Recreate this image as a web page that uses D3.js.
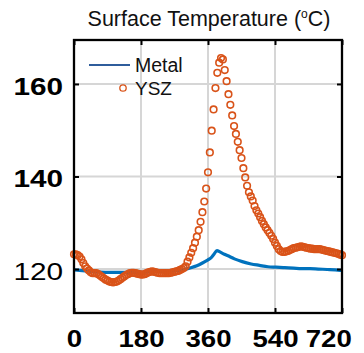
<!DOCTYPE html>
<html>
<head>
<meta charset="utf-8">
<script src="https://cdn.jsdelivr.net/npm/d3@7"></script>
<style>
  body { margin: 0; background: #fff; }
  svg { display: block; font-family: 'Liberation Sans', Arial, sans-serif; }
</style>
</head>
<body>
<div id="chart"></div>
<script>
var width = 364
var height = 353
var margin = { top: 40, left: 74, right: 24, bottom: 40 }

var xTicks = [0, 180, 360, 540, 720]
var yTicks = [120, 140, 160]
var gridX = [180, 360, 540]

// metal surface temperature, [time (s), temp (C)]
var metal = [
  [0, 119.8], [30, 119.6], [60, 119.4], [90, 119.3], [120, 119.3], [150, 119.3],
  [180, 119.3], [210, 119.4], [240, 119.5], [270, 119.6], [290, 119.8], [310, 120.2],
  [330, 120.7], [345, 121.3], [360, 122.0], [368, 122.4], [376, 123.2], [384, 124.0],
  [392, 123.7], [404, 123.2], [418, 122.7], [431, 122.2], [452, 121.6], [476, 121.1],
  [498, 120.8], [521, 120.5], [543, 120.4], [566, 120.3], [590, 120.2], [611, 120.1],
  [634, 120.1], [656, 120.0], [680, 119.9], [702, 119.8], [720, 119.7]
]

// YSZ surface temperature, [time (s), temp (C)]
var ysz = [
  [0, 123.2], [5, 123.2], [10, 123.0], [15, 122.7], [20, 122.1], [25, 121.3],
  [30, 120.6], [35, 120.1], [40, 119.7], [45, 119.3], [50, 119.1], [55, 119.1],
  [60, 119.1], [65, 118.9], [70, 118.6], [75, 118.3], [80, 118.0], [85, 117.7],
  [90, 117.5], [95, 117.3], [100, 117.2], [105, 117.1], [110, 117.2], [115, 117.3],
  [120, 117.5], [125, 117.8], [130, 118.1], [135, 118.4], [140, 118.7], [145, 118.9],
  [150, 119.1], [155, 119.2], [160, 119.2], [165, 119.1], [170, 119.0], [175, 118.9],
  [180, 118.8], [185, 118.8], [190, 118.9], [195, 119.1], [200, 119.3], [205, 119.4],
  [210, 119.5], [215, 119.4], [220, 119.3], [225, 119.2], [230, 119.1], [235, 119.1],
  [240, 119.1], [245, 119.1], [250, 119.1], [255, 119.1], [260, 119.2], [265, 119.3],
  [270, 119.4], [275, 119.5], [280, 119.6], [285, 119.8], [290, 120.0], [295, 120.2],
  [300, 120.6], [305, 121.6], [310, 122.5], [315, 123.5], [320, 124.5], [325, 125.7],
  [330, 127.0], [335, 128.4], [340, 130.2], [345, 132.3], [350, 134.6], [355, 137.4],
  [360, 140.9], [365, 145.2], [370, 149.9], [375, 154.5], [380, 159.1], [385, 162.4],
  [390, 164.6], [395, 165.6], [400, 165.3], [405, 163.0], [410, 160.6], [415, 157.8],
  [420, 155.5], [425, 153.2], [430, 150.9], [435, 149.2], [440, 147.5], [445, 145.7],
  [450, 144.0], [455, 141.8], [460, 139.8], [465, 138.0], [470, 136.6], [475, 135.7],
  [480, 134.8], [485, 133.6], [490, 132.7], [495, 132.0], [500, 131.2], [505, 130.4],
  [510, 129.7], [515, 129.0], [520, 128.4], [525, 127.8], [530, 127.2], [535, 126.5],
  [540, 125.7], [545, 125.0], [550, 124.3], [555, 123.9], [560, 123.7], [565, 123.7],
  [570, 123.8], [575, 123.9], [580, 124.1], [585, 124.3], [590, 124.5], [595, 124.6],
  [600, 124.7], [605, 124.8], [610, 124.9], [615, 124.8], [620, 124.7], [625, 124.6],
  [630, 124.5], [635, 124.4], [640, 124.4], [645, 124.3], [650, 124.3], [655, 124.3],
  [660, 124.3], [665, 124.2], [670, 124.1], [675, 124.0], [680, 123.9], [685, 123.8],
  [690, 123.7], [695, 123.6], [700, 123.5], [705, 123.4], [710, 123.3], [715, 123.1],
  [720, 123.0]
]

var blue = '#0072BD'
var orange = '#D95319'
var xStretch = 1.2
var yStretch = 1.24

var svg = d3
  .select('#chart')
  .append('svg')
  .attr('width', width)
  .attr('height', height)

var x = d3.scaleLinear().domain([0, 720]).range([margin.left, width - margin.right + 2])
var y = d3.scaleLinear().domain([110.5, 169.5]).range([height - margin.bottom, margin.top])

var plotW = x.range()[1] - x.range()[0]
var plotH = y.range()[0] - y.range()[1]

// grid
svg.append('g')
  .selectAll('line.gx')
  .data(gridX)
  .enter()
  .append('line')
  .attr('x1', d => x(d)).attr('x2', d => x(d))
  .attr('y1', y.range()[1]).attr('y2', y.range()[0])
  .attr('stroke', '#d6d6d6')
  .attr('stroke-width', 2)

svg.append('g')
  .selectAll('line.gy')
  .data(yTicks)
  .enter()
  .append('line')
  .attr('x1', x.range()[0]).attr('x2', x.range()[1])
  .attr('y1', d => y(d)).attr('y2', d => y(d))
  .attr('stroke', '#d6d6d6')
  .attr('stroke-width', 2)

// metal line
var line = d3.line().x(d => x(d[0])).y(d => y(d[1])).curve(d3.curveMonotoneX)

svg.append('path')
  .datum(metal)
  .attr('d', line)
  .attr('fill', 'none')
  .attr('stroke', blue)
  .attr('stroke-width', 3.2)

// YSZ markers
svg.append('g')
  .selectAll('circle')
  .data(ysz)
  .enter()
  .append('circle')
  .attr('cx', d => x(d[0]))
  .attr('cy', d => y(d[1]))
  .attr('r', 3.3)
  .attr('fill', 'none')
  .attr('stroke', orange)
  .attr('stroke-width', 1.6)

// axes, ticks pointing in
var xAxis = svg.append('g')
  .attr('transform', 'translate(0,' + y.range()[0] + ')')
  .call(d3.axisBottom(x).tickValues(xTicks).tickSize(-5).tickPadding(18))

var yAxis = svg.append('g')
  .attr('transform', 'translate(' + x.range()[0] + ',0)')
  .call(d3.axisLeft(y).tickValues(yTicks).tickSize(-5).tickPadding(11))

svg.append('g')
  .attr('transform', 'translate(0,' + y.range()[1] + ')')
  .call(d3.axisTop(x).tickValues(xTicks).tickSize(-5).tickFormat(''))

svg.append('g')
  .attr('transform', 'translate(' + x.range()[1] + ',0)')
  .call(d3.axisRight(y).tickValues(yTicks).tickSize(-5).tickFormat(''))

svg.selectAll('.domain').remove()
svg.selectAll('.tick line').attr('stroke', '#000').attr('stroke-width', 2)

xAxis.selectAll('text')
  .attr('font-size', 23)
  .attr('font-weight', 'bold')
  .attr('fill', '#000')
  .attr('font-family', "'Liberation Sans', Arial, sans-serif")
  .attr('transform', 'scale(' + xStretch + ',1)')
  .attr('dx', d => (d === 720 ? -11.5 : 0))

yAxis.selectAll('text')
  .attr('font-size', 24)
  .attr('font-weight', d => (d === 120 ? 'normal' : 'bold'))
  .attr('fill', '#000')
  .attr('font-family', "'Liberation Sans', Arial, sans-serif")
  .attr('x', -11 / yStretch)
  .attr('dy', '0.43em')
  .attr('transform', 'scale(' + yStretch + ',1)')

// frame
svg.append('rect')
  .attr('x', x.range()[0])
  .attr('y', y.range()[1])
  .attr('width', plotW)
  .attr('height', plotH)
  .attr('fill', 'none')
  .attr('stroke', '#000')
  .attr('stroke-width', 2.3)

// title
var title = svg.append('text')
  .attr('x', 209)
  .attr('y', 26)
  .attr('text-anchor', 'middle')
  .attr('font-size', 21.5)
  .attr('fill', '#111')
title.append('tspan').text('Surface Temperature (')
title.append('tspan').text('o').attr('font-size', 12).attr('dy', -8)
title.append('tspan').text('C)').attr('dy', 8)

// legend
var legend = svg.append('g')
legend.append('line')
  .attr('x1', 89).attr('x2', 130)
  .attr('y1', 65).attr('y2', 65)
  .attr('stroke', '#2f5d9c')
  .attr('stroke-width', 2)
legend.append('text')
  .attr('x', 135).attr('y', 71.5)
  .attr('font-size', 19.5)
  .attr('fill', '#111')
  .text('Metal')
legend.append('circle')
  .attr('cx', 123).attr('cy', 88)
  .attr('r', 3.2)
  .attr('fill', 'none')
  .attr('stroke', orange)
  .attr('stroke-width', 1.3)
legend.append('text')
  .attr('x', 135).attr('y', 95)
  .attr('font-size', 19)
  .attr('fill', '#111')
  .text('YSZ')
</script>
</body>
</html>
